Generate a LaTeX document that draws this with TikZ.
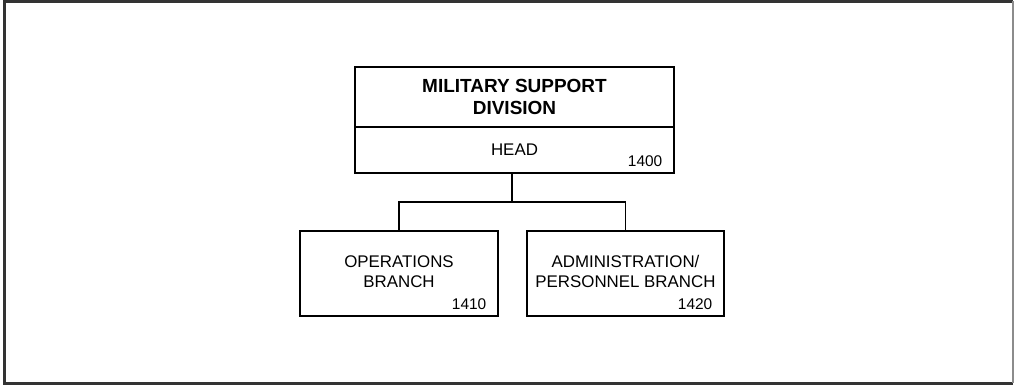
\documentclass[tikz,border=0pt]{standalone}
\usepackage{fontspec}
\setmainfont{Liberation Sans}
\usepackage{tikz}
\usetikzlibrary{positioning}
\tikzset{
x=0.025cm, y=-0.025cm, % one unit is one pixel of the chart, y runs down
unit/.style={draw, line width=0.9pt, align=center, inner sep=0pt}, % sets the properties for each box
num/.style={font=\fontsize{11}{13}\selectfont, inner sep=0pt}, % the office numbers
frame/.style={draw=black!80, line width=1.6pt}, % the border round the chart
}
\begin{document}
\begin{tikzpicture}
\useasboundingbox (0,0) rectangle (1014,385);
\draw[frame] (1012.5,383.5) -- (4.5,383.5) -- (4.5,1.5) -- (1012.5,1.5);
\draw[frame, draw=black!45, line width=1.2pt] (1012.8,1.5) -- (1012.8,383.5);
\node[unit, minimum width=319*0.025cm, minimum height=60*0.025cm,
  font=\fontsize{13.5}{15.5}\bfseries\selectfont] at (514.5,97) (div) {MILITARY SUPPORT\\DIVISION};
\node[unit, minimum width=319*0.025cm, minimum height=46*0.025cm,
  font=\fontsize{12}{14}\selectfont, below=0pt of div, yshift=0.9pt] (head) {HEAD};
\node[num, anchor=south east] at ([shift={(-12,-7)}]head.south east) (n1400) {1400};
\node[unit, minimum width=198*0.025cm, minimum height=85*0.025cm,
  font=\fontsize{12}{14}\selectfont, text depth=2.8pt] at (399,273.5) (ops) {OPERATIONS\\BRANCH};
\node[num, anchor=south east] at ([shift={(-12,-7)}]ops.south east) (n1410) {1410};
\node[unit, minimum width=197*0.025cm, minimum height=85*0.025cm,
  font=\fontsize{12}{14}\selectfont, text depth=2.8pt] at (625.5,273.5) (adm) {ADMINISTRATION/\\PERSONNEL BRANCH};
\node[num, anchor=south east] at ([shift={(-12,-7)}]adm.south east) (n1420) {1420};
\coordinate (jn) at (512,202);
\draw[line width=0.9pt] (jn |- head.south) -- (jn);
\draw[line width=0.9pt] (ops.north) |- (jn) -| (adm.north);
\end{tikzpicture}
\end{document}
